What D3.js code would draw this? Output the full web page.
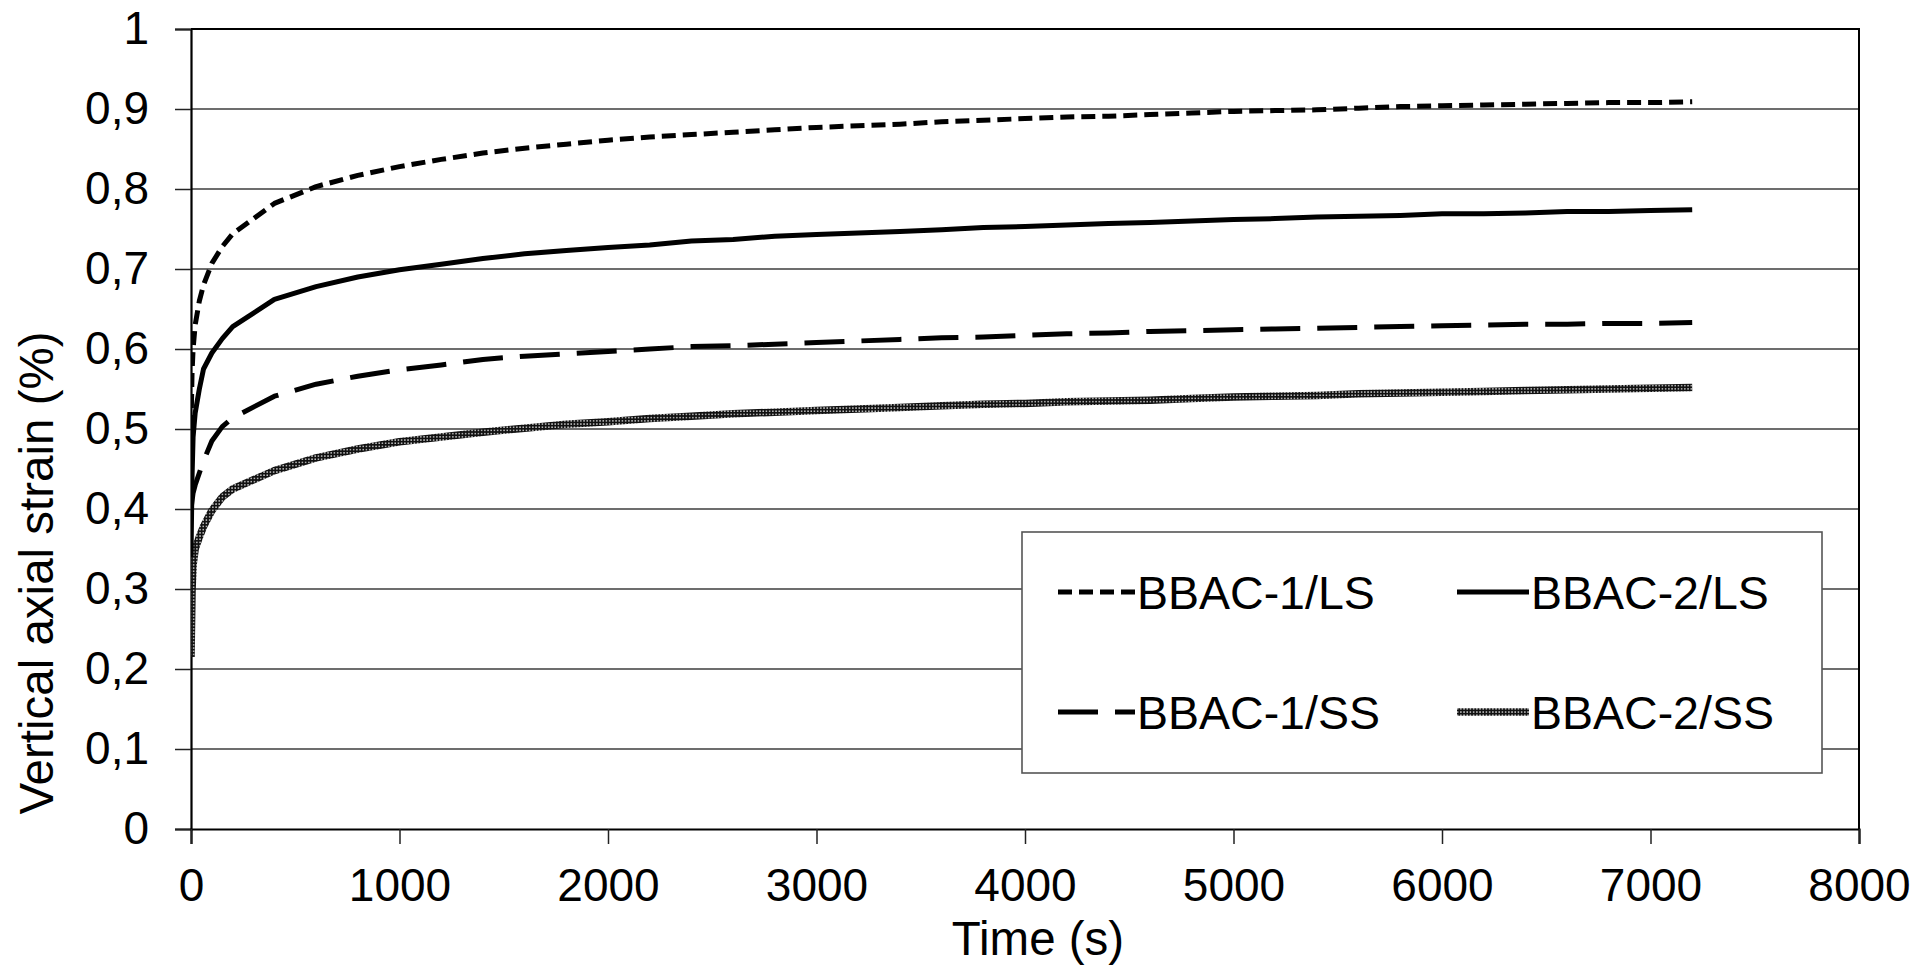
<!DOCTYPE html>
<html>
<head>
<meta charset="utf-8">
<script src="https://cdn.jsdelivr.net/npm/d3@7"></script>
<style>
  body { margin: 0; background: #fff; }
  svg { display: block; }
  text { font-family: "Liberation Sans", Arial, sans-serif; fill: #000; }
</style>
</head>
<body>
<svg id="chart" width="1917" height="965"></svg>
<script>
// Creep test: vertical axial strain (%) against time (s)
const times = [0, 5, 10, 20, 40, 60, 100, 150, 200,
  400, 600, 800, 1000, 1200, 1400, 1600, 1800, 2000, 2200, 2400, 2600, 2800, 3000,
  3200, 3400, 3600, 3800, 4000, 4200, 4400, 4600, 4800, 5000, 5200, 5400, 5600,
  5800, 6000, 6200, 6400, 6600, 6800, 7000, 7200];

const bbac1LS = [0.50, 0.57, 0.60, 0.63, 0.66, 0.68, 0.707, 0.728, 0.744,
  0.782, 0.803, 0.817, 0.828, 0.837, 0.845, 0.851, 0.856, 0.861, 0.865, 0.868, 0.871, 0.874, 0.877,
  0.879, 0.881, 0.884, 0.886, 0.888, 0.890, 0.891, 0.893, 0.895, 0.897, 0.898, 0.899, 0.901,
  0.903, 0.904, 0.905, 0.906, 0.907, 0.908, 0.908, 0.909];

const bbac2LS = [0.34, 0.44, 0.49, 0.52, 0.55, 0.575, 0.595, 0.613, 0.628,
  0.662, 0.678, 0.690, 0.699, 0.706, 0.713, 0.719, 0.723, 0.727, 0.730, 0.735, 0.737, 0.741, 0.743,
  0.745, 0.747, 0.749, 0.752, 0.753, 0.755, 0.757, 0.758, 0.760, 0.762, 0.763, 0.765, 0.766,
  0.767, 0.769, 0.769, 0.770, 0.772, 0.772, 0.773, 0.774];

const bbac1SS = [0.40, 0.41, 0.42, 0.43, 0.445, 0.46, 0.485, 0.503, 0.514,
  0.541, 0.556, 0.566, 0.574, 0.580, 0.587, 0.591, 0.594, 0.597, 0.600, 0.603, 0.604, 0.606, 0.608,
  0.610, 0.612, 0.614, 0.615, 0.617, 0.619, 0.620, 0.622, 0.623, 0.624, 0.625, 0.626, 0.627,
  0.628, 0.629, 0.630, 0.631, 0.631, 0.632, 0.632, 0.633];

const bbac2SS = [0.215, 0.30, 0.33, 0.35, 0.365, 0.378, 0.398, 0.415, 0.425,
  0.448, 0.464, 0.475, 0.484, 0.490, 0.496, 0.501, 0.506, 0.509, 0.513, 0.516, 0.519, 0.521, 0.523,
  0.525, 0.527, 0.529, 0.531, 0.532, 0.534, 0.535, 0.536, 0.538, 0.540, 0.541, 0.542, 0.544,
  0.545, 0.546, 0.547, 0.548, 0.549, 0.550, 0.551, 0.552];

const seriesNames = ["BBAC-1/LS", "BBAC-2/LS", "BBAC-1/SS", "BBAC-2/SS"];
const xTicks = [0, 1000, 2000, 3000, 4000, 5000, 6000, 7000, 8000];
const yTicks = [0, 0.1, 0.2, 0.3, 0.4, 0.5, 0.6, 0.7, 0.8, 0.9, 1];
const yTickLabels = ["0", "0,1", "0,2", "0,3", "0,4", "0,5", "0,6", "0,7", "0,8", "0,9", "1"];
const xTitle = "Time (s)";
const yTitle = "Vertical axial strain (%)";

const seriesValues = [bbac1LS, bbac2LS, bbac1SS, bbac2SS];

// line appearance per series
const styles = [
  { stroke: "#000", width: 5, dash: "14,7" },
  { stroke: "#000", width: 5, dash: null },
  { stroke: "#000", width: 5, dash: "40,17" },
  { stroke: "url(#grain)", width: 7.5, dash: null }
];

const svg = d3.select("#chart");
const plot = { left: 191, right: 1859, top: 29, bottom: 829 };

const x = d3.scaleLinear().domain([0, 8000]).range([plot.left, plot.right]);
const y = d3.scaleLinear().domain([0, 1]).range([plot.bottom, plot.top]);

svg.append("rect").attr("width", 1917).attr("height", 965).attr("fill", "#fff");

// speckled texture used by the BBAC-2/SS line
const defs = svg.append("defs");
const pat = defs.append("pattern").attr("id", "grain")
  .attr("patternUnits", "userSpaceOnUse").attr("width", 3.2).attr("height", 3.2);
pat.append("rect").attr("width", 3.2).attr("height", 3.2).attr("fill", "#111");
pat.append("rect").attr("x", 1).attr("y", 1).attr("width", 1.3).attr("height", 1.3).attr("fill", "#fafafa");

defs.append("clipPath").attr("id", "plotClip")
  .append("rect").attr("x", plot.left).attr("y", plot.top - 10)
  .attr("width", plot.right - plot.left).attr("height", plot.bottom - plot.top + 10);

// horizontal gridlines
svg.append("g")
  .selectAll("line").data(yTicks.slice(1, -1)).join("line")
  .attr("x1", plot.left).attr("x2", plot.right)
  .attr("y1", d => y(d)).attr("y2", d => y(d))
  .attr("stroke", "#3c3c3c").attr("stroke-width", 1.3);

// plot frame (top and right edges)
svg.append("path")
  .attr("d", `M${plot.left},${plot.top}H${plot.right}V${plot.bottom}`)
  .attr("fill", "none").attr("stroke", "#000").attr("stroke-width", 2);

// axes
const yAxis = d3.axisLeft(y).tickValues(yTicks).tickSize(16).tickPadding(26)
  .tickFormat((d, i) => yTickLabels[i]);
const gy = svg.append("g").attr("transform", `translate(${plot.left},0)`).call(yAxis);

const xAxis = d3.axisBottom(x).tickValues(xTicks).tickSize(15).tickPadding(24)
  .tickFormat(d3.format("d"));
const gx = svg.append("g").attr("transform", `translate(0,${plot.bottom})`).call(xAxis);

[gx, gy].forEach(g => {
  g.select(".domain").attr("stroke", "#000").attr("stroke-width", 2.2);
  g.selectAll(".tick line").attr("stroke", "#222").attr("stroke-width", 1.5);
  g.selectAll(".tick text").attr("font-size", 46)
    .attr("font-family", "'Liberation Sans', Arial, sans-serif").attr("fill", "#000");
});

// axis titles
svg.append("text").attr("x", 1038).attr("y", 955)
  .attr("text-anchor", "middle").attr("font-size", 47.5).text(xTitle);
svg.append("text")
  .attr("transform", "translate(53,573) rotate(-90)")
  .attr("text-anchor", "middle").attr("font-size", 47.5).text(yTitle);

// series lines
const line = d3.line().x(d => x(d[0])).y(d => y(d[1]));
const lines = svg.append("g").attr("clip-path", "url(#plotClip)");
seriesValues.slice().reverse().forEach((vals, ri) => {
  const i = seriesValues.length - 1 - ri;
  const st = styles[i];
  lines.append("path")
    .datum(times.map((t, k) => [t, vals[k]]))
    .attr("d", line)
    .attr("fill", "none")
    .attr("stroke", st.stroke)
    .attr("stroke-width", st.width)
    .attr("stroke-linejoin", "round")
    .attr("stroke-dasharray", st.dash);
});

// legend
const legend = svg.append("g");
legend.append("rect")
  .attr("x", 1022).attr("y", 532).attr("width", 800).attr("height", 241)
  .attr("fill", "#fff").attr("stroke", "#555").attr("stroke-width", 1.6);

const legendPos = [
  { sx: 1058, ex: 1135, ty: 592 },
  { sx: 1457, ex: 1529, ty: 592 },
  { sx: 1058, ex: 1135, ty: 712 },
  { sx: 1457, ex: 1529, ty: 712 }
];
seriesNames.forEach((name, i) => {
  const p = legendPos[i];
  const st = styles[i];
  legend.append("line")
    .attr("x1", p.sx).attr("x2", p.ex).attr("y1", p.ty).attr("y2", p.ty)
    .attr("stroke", st.stroke).attr("stroke-width", st.width)
    .attr("stroke-dasharray", st.dash);
  legend.append("text")
    .attr("x", p.ex + 2).attr("y", p.ty).attr("dy", "0.36em")
    .attr("font-size", 46.5).text(name);
});
</script>
</body>
</html>
